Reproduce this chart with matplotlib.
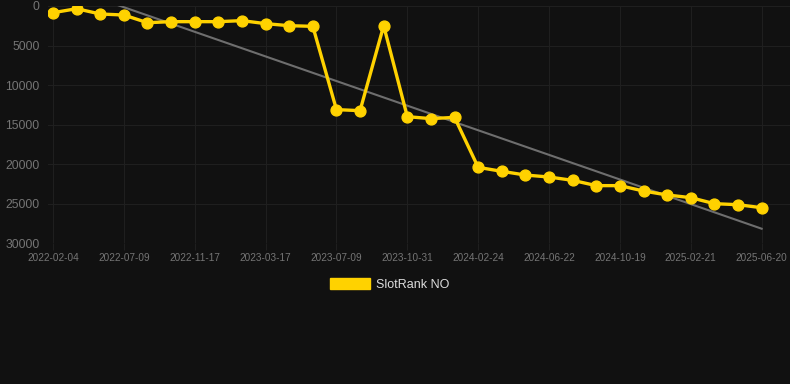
import numpy as np
import matplotlib
matplotlib.use("Agg")
import matplotlib.pyplot as plt
from matplotlib.patches import Patch

plt.rcParams['font.family'] = ['Liberation Sans', 'DejaVu Sans']

# rank values (lower is better, axis reversed)
ranks = [850, 340, 1010, 1140, 2110, 1980, 1980, 1980, 1850, 2230, 2490,
         2570, 13100, 13230, 2490, 13990, 14240, 14080, 20400, 20900, 21370,
         21620, 22040, 22710, 22710, 23390, 23890, 24230, 24990, 25120, 25500]
tick_labels = ['2022-02-04', '2022-07-09', '2022-11-17', '2023-03-17',
               '2023-07-09', '2023-10-31', '2024-02-24', '2024-06-22',
               '2024-10-19', '2025-02-21', '2025-06-20']
y_ticks = [0, 5000, 10000, 15000, 20000, 25000, 30000]
series_name = 'SlotRank NO'

bg = '#111111'
gold = '#FFD200'
grid_col = '#1f1f1f'
label_col = '#757575'

x = np.arange(len(ranks))

fig = plt.figure(figsize=(7.9, 3.84), dpi=100, facecolor=bg)
ax = fig.add_axes([48 / 790, 1 - 243.3 / 384, 1 - 48 / 790, (243.3 - 6) / 384])
ax.set_facecolor(bg)

# linear trend over the whole series
k, b = np.polyfit(x, ranks, 1)
ax.plot(x, k * x + b, color='#6e6e6e', lw=1.5, zorder=2)

ax.plot(x, ranks, color=gold, lw=2.4, marker='o', markersize=7.8,
        markerfacecolor=gold, markeredgecolor=gold, zorder=3)

ax.set_xlim(-0.21, 31.2)
ax.set_ylim(30000, 0)
ax.set_yticks(y_ticks)
ax.set_yticklabels([str(v) for v in y_ticks])
ax.set_xticks(x[::3])
ax.set_xticklabels(tick_labels)

ax.grid(True, color=grid_col, lw=0.8)
ax.set_axisbelow(True)
for s in ax.spines.values():
    s.set_visible(False)
ax.tick_params(axis='y', length=0, pad=6, labelsize=8.8, labelcolor=label_col)
ax.tick_params(axis='x', length=5, color=grid_col, pad=2, labelsize=7.2,
               labelcolor=label_col)

fig.legend(handles=[Patch(facecolor=gold, edgecolor=gold, label=series_name)],
           loc='center', bbox_to_anchor=(390 / 790, 1 - 284.5 / 384),
           frameon=False, fontsize=9, labelcolor='#dddddd',
           handlelength=3.2, handleheight=0.9, handletextpad=0.5)

fig.savefig('out.png', dpi=100, facecolor=bg)
